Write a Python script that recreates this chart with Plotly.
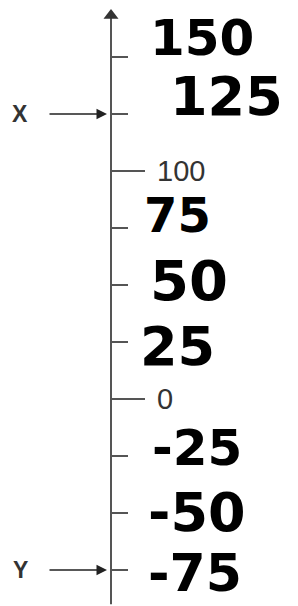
import plotly.graph_objects as go

# data
tick_values = [150, 125, 100, 75, 50, 25, 0, -25, -50, -75]
major_ticks = [100, 0]
printed_labels = ["100", "0"]
hand_values = [150, 125, 75, 50, 25, -25, -50, -75]
hand_labels = ["150", "125", "75", "50", "25", "-25", "-50", "-75"]
marker_names = ["X", "Y"]
marker_values = [125, -75]

AX = 111
Y_RANGE = [-90.8, 175.0]

fig = go.Figure()

# main axis line
fig.add_trace(go.Scatter(x=[AX, AX], y=[-90.0, 169.0], mode="lines",
                         line=dict(color="#555555", width=2), hoverinfo="skip"))
# arrow head at top
fig.add_trace(go.Scatter(x=[AX], y=[168.2], mode="markers",
                         marker=dict(symbol="triangle-up", size=13, color="#333333"),
                         hoverinfo="skip"))

# ticks
for v in tick_values:
    length = 34 if v in major_ticks else 17
    fig.add_trace(go.Scatter(x=[AX, AX + length], y=[v, v], mode="lines",
                             line=dict(color="#555555", width=2), hoverinfo="skip"))

annotations = []
for v, t in zip(major_ticks, printed_labels):
    annotations.append(dict(x=AX + 44, y=v, text=t, showarrow=False, xanchor="left",
                            yanchor="middle", font=dict(family="Liberation Sans", size=29, color="#333333")))

hand_pos = {150: (148, 8.3, 50), 125: (168, 7.5, 54), 75: (142, 5.5, 48), 50: (148, 2, 56),
            25: (138, -2, 54), -25: (150, 3.5, 50), -50: (146, 0, 54), -75: (146, -1.5, 52)}
for v, t in zip(hand_values, hand_labels):
    x0, dy, fs = hand_pos[v]
    annotations.append(dict(x=x0, y=v + dy, text="<b>" + t + "</b>", showarrow=False,
                            xanchor="left", yanchor="middle",
                            font=dict(family="DejaVu Sans", size=fs, color="#000000")))

for name, v in zip(marker_names, marker_values):
    annotations.append(dict(x=20, y=v, text="<b>" + name + "</b>", showarrow=False,
                            xanchor="center", yanchor="middle",
                            font=dict(family="Liberation Sans", size=23, color="#333333")))
    annotations.append(dict(x=AX - 4, y=v, ax=48, ay=v, xref="x", yref="y", axref="x", ayref="y",
                            text="", showarrow=True, arrowhead=2, arrowsize=1.4, arrowwidth=1.5,
                            arrowcolor="#222222"))

fig.update_layout(
    width=298, height=606, margin=dict(l=0, r=0, t=0, b=0),
    plot_bgcolor="white", paper_bgcolor="white", showlegend=False,
    xaxis=dict(range=[0, 298], visible=False, fixedrange=True),
    yaxis=dict(range=Y_RANGE, visible=False, fixedrange=True),
    annotations=annotations,
)

fig.write_html("out.html", config={"displayModeBar": False, "staticPlot": True})
with open("out.html", encoding="utf-8") as f:
    html = f.read()
html = html.replace("<head>", "<head><style>html,body{margin:0;padding:0;overflow:hidden;}</style>", 1)
with open("out.html", "w", encoding="utf-8") as f:
    f.write(html)
